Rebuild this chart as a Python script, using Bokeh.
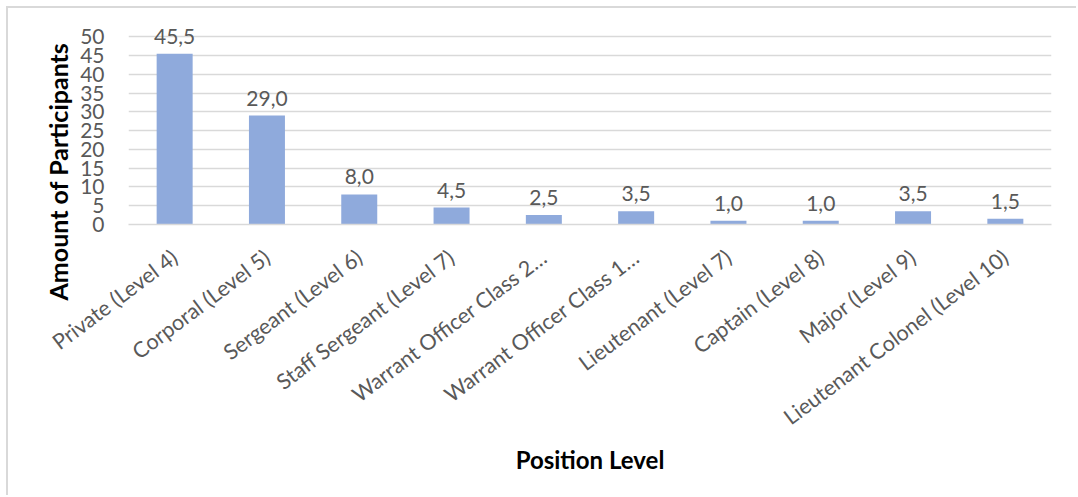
import math
from bokeh.plotting import figure
from bokeh.models import ColumnDataSource, FactorRange, Range1d, FixedTicker, Title
from bokeh.core.properties import value
from bokeh.embed import file_html
from bokeh.resources import INLINE

categories = [
    "Private (Level 4)",
    "Corporal (Level 5)",
    "Sergeant (Level 6)",
    "Staff Sergeant (Level 7)",
    "Warrant Officer Class 2…",
    "Warrant Officer Class 1…",
    "Lieutenant (Level 7)",
    "Captain (Level 8)",
    "Major (Level 9)",
    "Lieutenant Colonel (Level 10)",
]
participants = [45.5, 29.0, 8.0, 4.5, 2.5, 3.5, 1.0, 1.0, 3.5, 1.5]
y_ticks = [0, 5, 10, 15, 20, 25, 30, 35, 40, 45, 50]

labels = [f"{v:.1f}".replace(".", ",") for v in participants]
source = ColumnDataSource(data=dict(cat=categories, val=participants, lab=labels))

FONT = "Lato"
GREY = "#595959"
GRID = "#D9D9D9"

p = figure(
    x_range=FactorRange(*categories, range_padding=0),
    y_range=Range1d(0, 53),
    width=1070, height=489,
    output_backend="svg", toolbar_location=None,
    min_border_left=120, min_border_right=27, min_border_top=17, min_border_bottom=273,
    margin=(6, 0, 0, 6),
    styles={"border-left": "2px solid #D9D9D9", "border-top": "2px solid #D9D9D9"},
)
p.outline_line_color = None

p.vbar(x="cat", top="val", width=0.39, source=source, fill_color="#8FAADC", line_color=None)
p.text(x="cat", y="val", text="lab", source=source, text_align="center", text_baseline="bottom",
       y_offset=-10, text_font=value(FONT), text_font_size="21px", text_color=GREY)

p.xgrid.grid_line_color = None
p.ygrid.grid_line_color = GRID
p.ygrid.grid_line_width = 1.5
p.yaxis.ticker = FixedTicker(ticks=y_ticks)

p.yaxis.axis_line_color = None
p.yaxis.major_tick_line_color = None
p.yaxis.minor_tick_line_color = None
p.yaxis.major_label_standoff = 18
p.yaxis.major_label_text_font = FONT
p.yaxis.major_label_text_font_size = "21px"
p.yaxis.major_label_text_color = GREY

# y-axis title: starts below the frame's bottom, as in the original
p.add_layout(Title(text="Amount of Participants", align="left", offset=-76,
                   text_font=FONT, text_font_size="25px", text_font_style="bold",
                   text_color="black"), "left")

p.xaxis.axis_line_color = GRID
p.xaxis.axis_line_width = 1.5
p.xaxis.major_tick_line_color = None
p.xaxis.minor_tick_line_color = None
p.xaxis.major_label_orientation = 0.645
p.xaxis.major_label_standoff = 24
p.xaxis.major_label_text_font = FONT
p.xaxis.major_label_text_font_size = "21.5px"
p.xaxis.major_label_text_color = GREY
p.xaxis.axis_label = "Position Level"
p.xaxis.axis_label_text_font = FONT
p.xaxis.axis_label_text_font_size = "24px"
p.xaxis.axis_label_text_font_style = "bold"
p.xaxis.axis_label_text_color = "black"
p.xaxis.axis_label_standoff = 2

open("out.html", "w").write(file_html(p, INLINE))
